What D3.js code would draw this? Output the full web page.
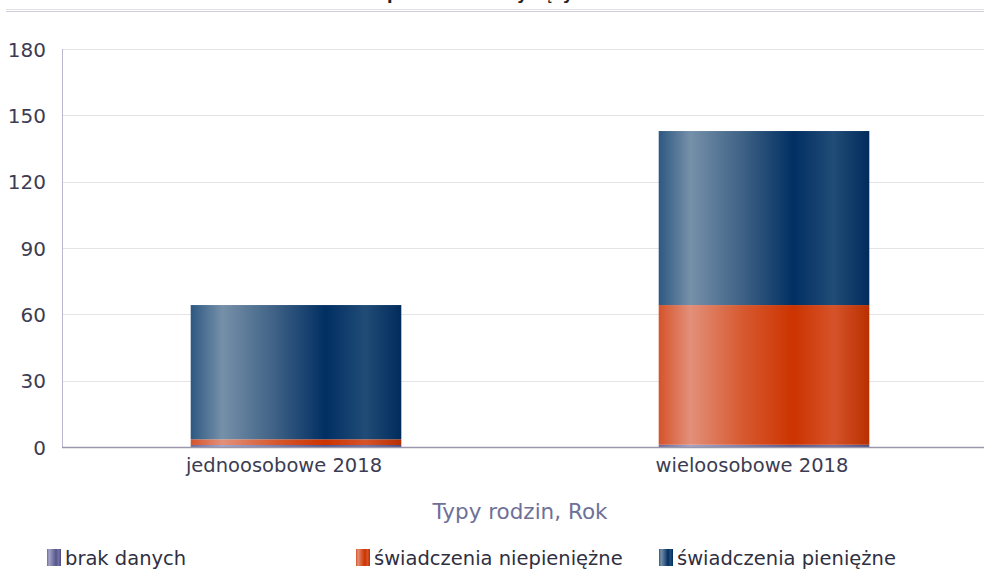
<!DOCTYPE html>
<html><head><meta charset="utf-8">
<script src="https://cdn.jsdelivr.net/npm/d3@7"></script>
<style>body{margin:0;background:#fff;}svg{display:block;font-family:"DejaVu Sans",Verdana,sans-serif;}</style>
</head><body><svg id="c" width="984" height="571"></svg>
<script>
const categories = ["jednoosobowe 2018", "wieloosobowe 2018"];
const seriesNames = ["brak danych", "świadczenia niepieniężne", "świadczenia pieniężne"];
const brakDanych = [0.9, 1.0];
const niepieniezne = [2.6, 63.2];
const pieniezne = [60.7, 78.7];
const yTicks = [0, 30, 60, 90, 120, 150, 180];
const titleText = "Świadczenia pomocowe w tysięcy";
const xTitle = "Typy rodzin, Rok";

const svg = d3.select("#c");
const W = 984, H = 571;
const m = {left: 62, top: 49, right: -14, bottom: 124};
const x = d3.scaleBand().domain(categories).range([m.left, W - m.right]).paddingInner(0.55).paddingOuter(0.275);
const y = d3.scaleLinear().domain([0, 180]).range([447, 49]);

const defs = svg.append("defs");
const grads = [
  {id:"gP", stops:[["0%","#6a6a9c"],["15%","#a4a4c8"],["64%","#55558a"],["83%","#7272a4"],["100%","#4d4d82"]]},
  {id:"gO", stops:[["0%","#d5532a"],["15%","#e2907a"],["40%","#d7592f"],["64%","#cc3300"],["83%","#d6532a"],["100%","#b83000"]]},
  {id:"gB", stops:[["0%","#2d5882"],["15%","#7690a9"],["40%","#3e6185"],["64%","#012f63"],["83%","#214c77"],["100%","#002b5c"]]}
];
grads.forEach(g => {
  const lg = defs.append("linearGradient").attr("id", g.id).attr("x1","0").attr("x2","1").attr("y1","0").attr("y2","0");
  g.stops.forEach(s => lg.append("stop").attr("offset", s[0]).attr("stop-color", s[1]));
});
const fills = ["url(#gP)", "url(#gO)", "url(#gB)"];

// title (mostly clipped at top, as in the reference)
const tt = svg.append("text").attr("x", 0).attr("y", 0).attr("font-weight", "bold").attr("font-size", 16).attr("fill", "#222").text(titleText);
try { const px = tt.node().getStartPositionOfChar(12).x; tt.attr("x", 386 - px + 1); } catch(e) { tt.attr("x", 280); }

// header double line
svg.append("line").attr("x1", 6).attr("x2", W).attr("y1", 9.5).attr("y2", 9.5).attr("stroke", "#e2e2e6").attr("stroke-width", 1);
svg.append("line").attr("x1", 6).attr("x2", W).attr("y1", 11.5).attr("y2", 11.5).attr("stroke", "#cfcfdc").attr("stroke-width", 1);

// gridlines
svg.append("g").selectAll("line").data(yTicks.filter(d => d > 0)).join("line")
  .attr("x1", m.left).attr("x2", W).attr("y1", d => Math.round(y(d)) + 0.5).attr("y2", d => Math.round(y(d)) + 0.5)
  .attr("stroke", "#e3e3e8").attr("stroke-width", 1);

// y tick labels via axis
const yAxis = svg.append("g").attr("transform", `translate(${m.left},0)`)
  .call(d3.axisLeft(y).tickValues(yTicks).tickSize(0).tickPadding(16));
yAxis.select(".domain").remove();
yAxis.selectAll("text").attr("font-size", 20).attr("fill", "#3c3c52").attr("font-family", "DejaVu Sans, sans-serif").attr("dy", "0.35em");

// stacked bars
const data = categories.map((c, i) => ({cat: c, vals: [brakDanych[i], niepieniezne[i], pieniezne[i]]}));
const stack = d3.stack().keys([0,1,2]).value((d, k) => d.vals[k]);
const stacked = stack(data);
stacked.forEach((layer, k) => {
  svg.append("g").selectAll("rect").data(layer).join("rect")
    .attr("x", d => x(d.data.cat)).attr("width", x.bandwidth())
    .attr("y", d => y(d[1])).attr("height", d => y(d[0]) - y(d[1]))
    .attr("fill", fills[k]);
});

// axes lines
svg.append("line").attr("x1", m.left + 0.5).attr("x2", m.left + 0.5).attr("y1", 49).attr("y2", 447).attr("stroke", "#b8b8d0").attr("stroke-width", 1);
svg.append("line").attr("x1", m.left).attr("x2", W).attr("y1", 447.5).attr("y2", 447.5).attr("stroke", "#9a96ac").attr("stroke-width", 1.5);

// x labels
const xAxis = svg.append("g").attr("transform", `translate(-12,447)`)
  .call(d3.axisBottom(x).tickSize(0).tickPadding(11));
xAxis.select(".domain").remove();
xAxis.selectAll("text").attr("font-size", 19.5).attr("fill", "#3c3c52").attr("font-family", "DejaVu Sans, sans-serif");

// x axis title
svg.append("text").attr("x", 520).attr("y", 519).attr("text-anchor", "middle").attr("font-size", 21.5).attr("fill", "#6e7099").text(xTitle);

// legend
const legX = [47, 356, 659];
const lg = svg.append("g");
seriesNames.forEach((n, k) => {
  lg.append("rect").attr("x", legX[k]).attr("y", 549).attr("width", 14).attr("height", 17).attr("fill", fills[k]);
  lg.append("text").attr("x", legX[k] + 18).attr("y", 565).attr("font-size", 19.5).attr("fill", "#2f2f3f").text(n);
});
</script></body></html>
